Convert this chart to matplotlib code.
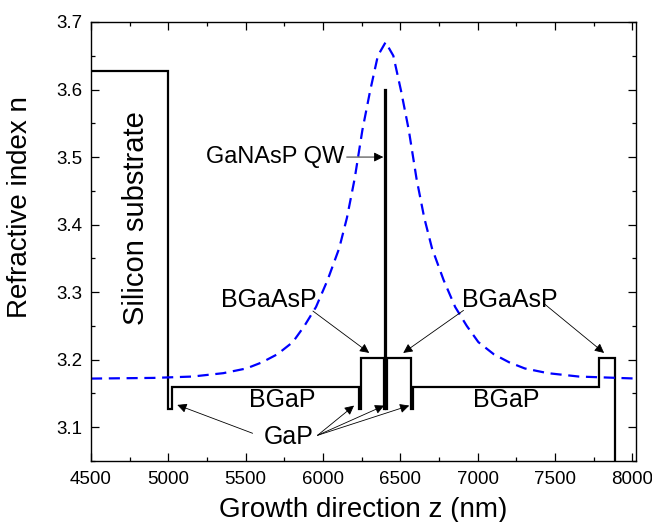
import numpy as np
import matplotlib.pyplot as plt
from matplotlib.ticker import MultipleLocator

plt.rcParams['font.family'] = ['Liberation Sans', 'DejaVu Sans']

# layer structure: edges (nm) and refractive index of each layer
edges = [4500, 5000, 5025, 6235, 6245, 6395, 6400, 6408, 6413, 6570, 6580, 7786, 7890, 8030]
n_layers = [3.627, 3.127, 3.160, 3.127, 3.202, 3.127, 3.600, 3.127, 3.202, 3.127, 3.160, 3.202, 1.0]

# optical mode profile (dashed)
z_mode = [4500, 4905, 5155, 5355, 5505, 5605, 5705, 5805, 5880, 5955, 6030, 6105, 6155, 6205,
          6255, 6305, 6355, 6405, 6455, 6505, 6555, 6605, 6655, 6705, 6780, 6855, 6930, 7005,
          7105, 7205, 7305, 7455, 7655, 7905, 8030]
n_mode = [3.172, 3.173, 3.175, 3.180, 3.187, 3.196, 3.208, 3.226, 3.250, 3.278, 3.318, 3.365,
          3.410, 3.468, 3.540, 3.598, 3.650, 3.670, 3.650, 3.598, 3.540, 3.468, 3.410, 3.365,
          3.318, 3.278, 3.250, 3.226, 3.208, 3.196, 3.187, 3.180, 3.175, 3.173, 3.172]

fig = plt.figure(figsize=(6.52, 5.22), dpi=100)
ax = fig.add_axes([0.1396, 0.1169, 0.836, 0.841])

ax.plot(z_mode, n_mode, color='#0000ff', lw=1.6, dashes=(5, 3))
ax.stairs(n_layers, edges, baseline=None, color='black', lw=1.6)

ax.set_xlim(4500, 8025)
ax.set_ylim(3.05, 3.7)
ax.xaxis.set_major_locator(MultipleLocator(500))
ax.xaxis.set_minor_locator(MultipleLocator(250))
ax.yaxis.set_major_locator(MultipleLocator(0.1))
ax.yaxis.set_minor_locator(MultipleLocator(0.05))
ax.tick_params(which='both', direction='in', top=True, right=True, width=0.9, labelsize=13.5)
ax.tick_params(which='major', length=6)
ax.tick_params(which='minor', length=3)
ax.tick_params(axis='y', pad=6)
ax.tick_params(axis='x', pad=7)
for s in ax.spines.values():
    s.set_linewidth(1.0)

ax.set_xlabel('Growth direction z (nm)', fontsize=20, labelpad=7)
ax.set_ylabel('Refractive index n', fontsize=20)
ax.yaxis.set_label_coords(-0.106, 0.579)

fs = 18
ap = dict(arrowstyle='-|>', color='black', lw=0.6, mutation_scale=14, shrinkA=0, shrinkB=0)

ax.text(4792, 3.41, 'Silicon substrate', rotation=90, fontsize=21, ha='center', va='center')

ax.annotate('GaNAsP QW', xy=(6390, 3.5), xytext=(6135, 3.5), fontsize=17,
            ha='right', va='center', arrowprops=ap)

ax.text(5649, 3.288, 'BGaAsP', fontsize=fs, ha='center', va='center')
ax.annotate('', xy=(6299, 3.210), xytext=(5935, 3.272), arrowprops=ap)

ax.text(7208, 3.288, 'BGaAsP', fontsize=fs, ha='center', va='center')
ax.annotate('', xy=(6519, 3.210), xytext=(6909, 3.273), arrowprops=ap)
ax.annotate('', xy=(7818, 3.210), xytext=(7435, 3.282), arrowprops=ap)

ax.text(5734, 3.14, 'BGaP', fontsize=fs, ha='center', va='center')
ax.text(7188, 3.14, 'BGaP', fontsize=fs, ha='center', va='center')

ax.text(5779, 3.085, 'GaP', fontsize=fs, ha='center', va='center')
ax.annotate('', xy=(5058, 3.133), xytext=(5545, 3.091), arrowprops=ap)
for zt in [6201, 6396, 6558]:
    ax.annotate('', xy=(zt, 3.132), xytext=(5965, 3.088), arrowprops=ap)

fig.savefig('out.png', dpi=100)
